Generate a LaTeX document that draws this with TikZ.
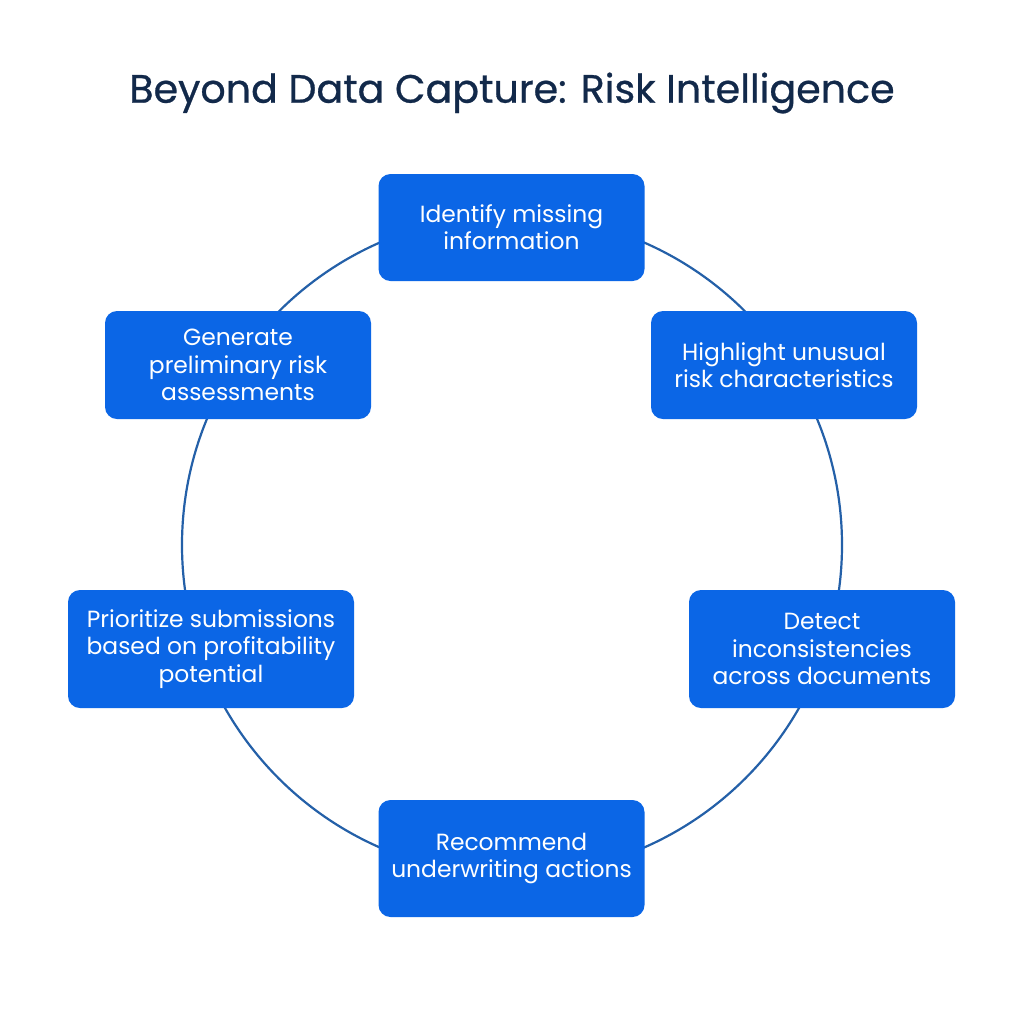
\documentclass[tikz,border=0pt]{standalone}
\usepackage{fontspec}
\setmainfont{Poppins}
\newfontfamily\titlefont{Poppins}[FakeBold=0.7]
\definecolor{boxblue}{HTML}{0B66E6}
\definecolor{ringblue}{HTML}{2460A8}
\definecolor{titlenavy}{HTML}{12294A}

\begin{document}
\begin{tikzpicture}[x=0.5pt,y=-0.5pt,
  ring/.style={draw=ringblue,line width=1.1pt},
  step box/.style={rectangle,rounded corners=6pt,fill=boxblue,text=white,
    align=center,inner sep=0pt,minimum width=133pt,
    font=\fontsize{11.7}{13.6}\selectfont}]
  \fill[white] (0,0) rectangle (1024,1024);
  \useasboundingbox (0,0) rectangle (1024,1024);
  \node[text=titlenavy,font=\titlefont\fontsize{19.8}{24}\selectfont] (title) at (512,93) {Beyond Data Capture: Risk Intelligence};
  \coordinate (centre) at (512,545);
  \draw[ring] (centre) circle [radius=165pt];
  \node[step box,minimum height=53.5pt] (1) at (511.5,227.5) {Identify missing\\information};
  \node[step box,minimum height=54pt] (2) at (784,365) {Highlight unusual\\risk characteristics};
  \node[step box,minimum height=59pt] (3) at (822,649) {Detect\\inconsistencies\\across documents};
  \node[step box,minimum height=58.5pt] (4) at (511.5,858.5) {Recommend\\underwriting actions};
  \node[step box,minimum height=59pt,minimum width=143pt] (5) at (211,649) {Prioritize submissions\\based on profitability\\potential};
  \node[step box,minimum height=54pt] (6) at (238,365) {Generate\\preliminary risk\\assessments};
\end{tikzpicture}
\end{document}
